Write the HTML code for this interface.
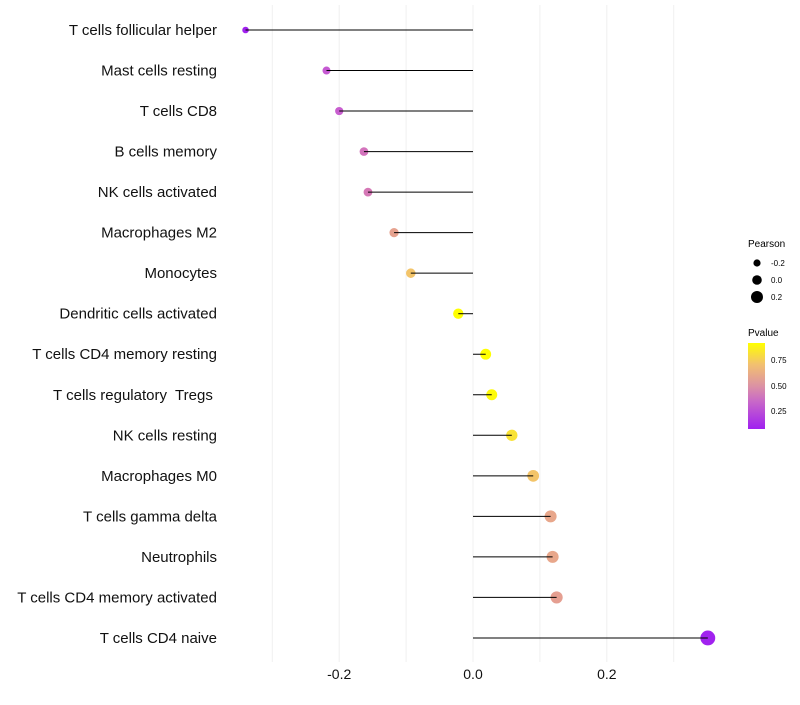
<!DOCTYPE html>
<html><head><meta charset="utf-8"><style>
body{margin:0;background:#fff;font-family:"Liberation Sans",sans-serif}
text{white-space:pre}
</style></head><body>
<svg id="chart" width="800" height="700" xmlns="http://www.w3.org/2000/svg">
<defs><linearGradient id="pg" x1="0" y1="1" x2="0" y2="0">
<stop offset="0" stop-color="#a020f0"/><stop offset="0.32" stop-color="#c868c8"/><stop offset="0.5" stop-color="#dc92a4"/><stop offset="0.75" stop-color="#f2c070"/><stop offset="1" stop-color="#ffff00"/>
</linearGradient></defs>
<g id="grid"></g><g id="marks"></g><g id="labels"></g>
<g>
<text x="748" y="247" font-size="10">Pearson</text>
<circle cx="757" cy="263" r="3.6" fill="#000"/><text x="771" y="266" font-size="8">-0.2</text>
<circle cx="757" cy="280" r="4.8" fill="#000"/><text x="771" y="283" font-size="8">0.0</text>
<circle cx="757" cy="297" r="6" fill="#000"/><text x="771" y="300" font-size="8">0.2</text>
</g>
<g>
<text x="748" y="336" font-size="10">Pvalue</text>
<rect x="748" y="343" width="17" height="86" fill="url(#pg)"/>
<text x="771" y="363" font-size="8">0.75</text>
<text x="771" y="389" font-size="8">0.50</text>
<text x="771" y="414" font-size="8">0.25</text>
</g>
</svg>
<script>
const categories=["T cells follicular helper","Mast cells resting","T cells CD8","B cells memory","NK cells activated","Macrophages M2","Monocytes","Dendritic cells activated","T cells CD4 memory resting","T cells regulatory  Tregs ","NK cells resting","Macrophages M0","T cells gamma delta","Neutrophils","T cells CD4 memory activated","T cells CD4 naive"];
const pearson=[-0.340,-0.219,-0.200,-0.163,-0.157,-0.118,-0.093,-0.022,0.019,0.028,0.058,0.090,0.116,0.119,0.125,0.351];
const pvalues=[0.08,0.30,0.32,0.40,0.42,0.58,0.72,0.93,0.92,0.90,0.82,0.72,0.60,0.60,0.57,0.08];
const xTicks=[-0.2,0,0.2];
const xTickLabels=["-0.2","0.0","0.2"];
const NS="http://www.w3.org/2000/svg";
const X=v=>473+v*669;
const Y=i=>30+i*40.53;
const R=v=>Math.max(2,4+(v+0.22)*6);
const stops=[[0,[160,32,240]],[0.32,[204,100,204]],[0.5,[222,140,160]],[0.62,[232,166,140]],[0.75,[242,192,112]],[1,[255,255,0]]];
function col(p){let t=(p-0.074)/(0.917-0.074);t=Math.max(0,Math.min(1,t));
for(let k=1;k<stops.length;k++){if(t<=stops[k][0]){const a=stops[k-1],b=stops[k],f=(t-a[0])/(b[0]-a[0]);
return "rgb("+a[1].map((c,j)=>Math.round(c+(b[1][j]-c)*f)).join(",")+")";}}return "rgb(255,255,0)";}
function mk(t,attrs,parent){const e=document.createElementNS(NS,t);for(const k in attrs)e.setAttribute(k,attrs[k]);parent.appendChild(e);return e;}
const grid=document.getElementById('grid'),marks=document.getElementById('marks'),labels=document.getElementById('labels');
for(let v=-0.3;v<=0.31;v+=0.1){const g=mk('line',{x1:X(v),x2:X(v),y1:5,y2:662,stroke:"#f0f0f0","stroke-width":1},grid);

}
xTicks.forEach((v,i)=>{const t=mk('text',{x:X(v),y:679,"font-size":14,"text-anchor":"middle",fill:"#111"},labels);t.textContent=xTickLabels[i];

});
categories.forEach((c,i)=>{
const t=mk('text',{x:217,y:Y(i)+5,"font-size":15,"text-anchor":"end",fill:"#111"},labels);t.textContent=c;


const d=mk('circle',{cx:X(pearson[i]),cy:Y(i),r:R(pearson[i]),fill:col(pvalues[i])},marks);


const l=mk('line',{x1:X(0),x2:X(pearson[i]),y1:Y(i),y2:Y(i),stroke:"#000","stroke-width":1},marks);


});
</script>
</body></html>
